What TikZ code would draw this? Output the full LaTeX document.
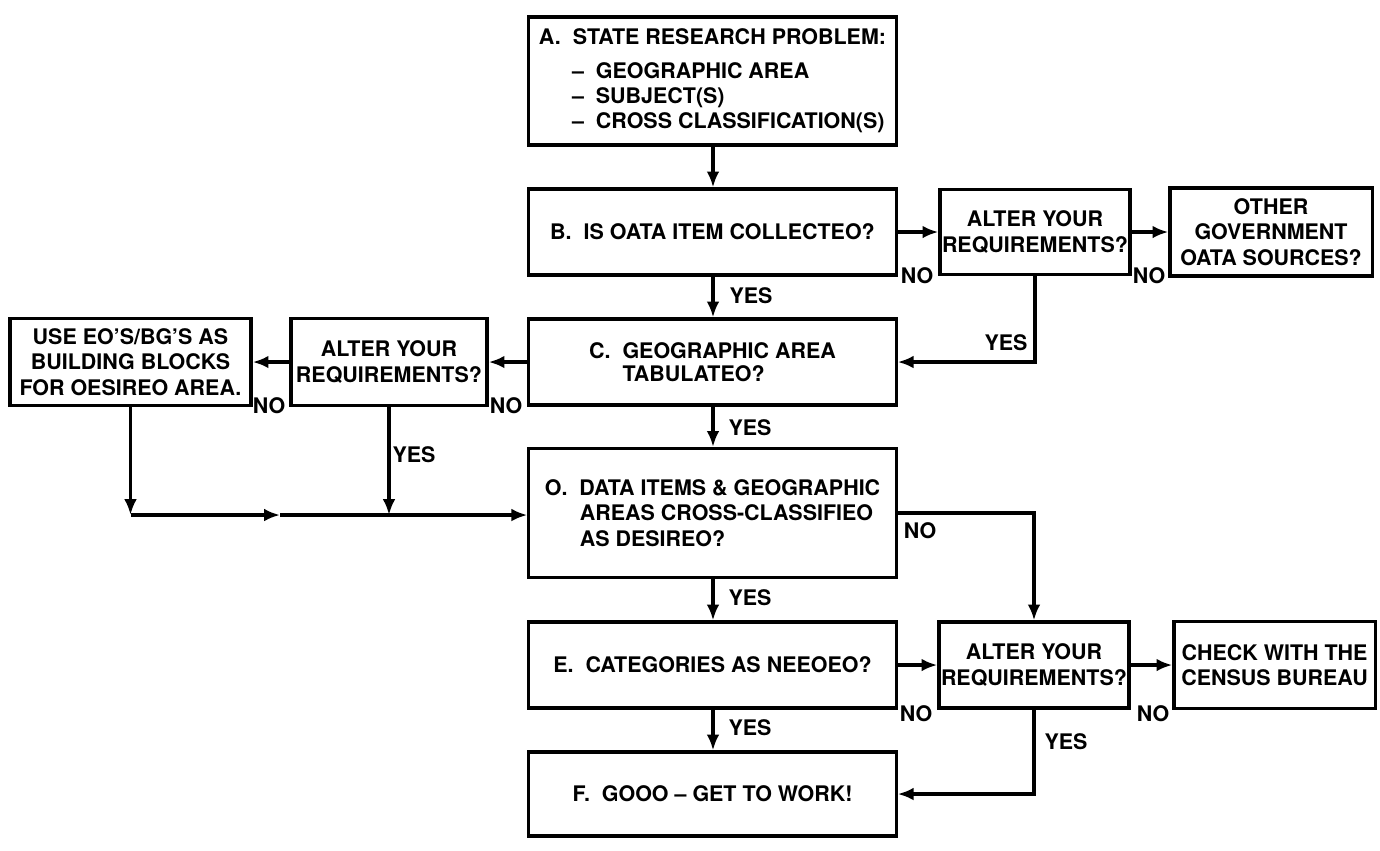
\documentclass[tikz,border=0pt]{standalone}
\usepackage{fontspec}
\setmainfont{TeX Gyre Heros}
\usetikzlibrary{arrows.meta,positioning}
\newcommand\flowfont{\fontsize{6.1}{7.2}\bfseries\selectfont}

\begin{document}
\begin{tikzpicture}[x=0.01cm,y=-0.01cm,
  box/.style={draw,line width=0.9pt,font=\flowfont,align=center,inner sep=0pt},
  lbl/.style={font=\flowfont,inner sep=0pt},
  arr/.style={-{Latex[length=4.5pt,width=3.6pt]},line width=0.9pt},
  ln/.style={line width=0.9pt}]

\useasboundingbox (0,0) rectangle (1380,850);

% main column
\node[box,align=left,minimum width=3.67cm,minimum height=1.28cm] (stateA) at (712.5,81)
  {A.\ \ STATE RESEARCH PROBLEM:\\[2.2pt]
   \hspace*{0.33cm}–\hspace{0.12cm}GEOGRAPHIC AREA\\
   \hspace*{0.33cm}–\hspace{0.12cm}SUBJECT(S)\\
   \hspace*{0.33cm}–\hspace{0.12cm}CROSS CLASSIFICATION(S)};
\node[box,minimum width=3.67cm,minimum height=0.86cm] (collB) at (712.5,232) {B.\ \ IS OATA ITEM COLLECTEO?};
\node[box,align=left,minimum width=3.67cm,minimum height=0.86cm] (geoC) at (712.5,362)
  {C.\ \ GEOGRAPHIC AREA\\[-0.8pt]\phantom{C.\ \ }TABULATEO?};
\node[box,align=left,minimum width=3.67cm,minimum height=1.29cm] (crossD) at (712.5,513)
  {O.\ \ DATA ITEMS \& GEOGRAPHIC\\
   \hspace*{0.35cm}AREAS CROSS-CLASSIFIEO\\
   \hspace*{0.35cm}AS DESIREO?};
\node[box,minimum width=3.67cm,minimum height=0.86cm] (catE) at (712.5,665) {E.\ \ CATEGORIES AS NEEOEO?};
\node[box,minimum width=3.67cm,minimum height=0.84cm] (workF) at (712.5,794) {F.\ \ GOOO – GET TO WORK!};

% side boxes
\node[box,minimum width=1.90cm,minimum height=0.85cm] (alterB) at (1035,232) {ALTER YOUR\\REQUIREMENTS?};
\node[box,minimum width=2.02cm,minimum height=0.88cm] (other) at (1271,232) {OTHER\\GOVERNMENT\\OATA SOURCES?};
\node[box,minimum width=1.96cm,minimum height=0.87cm] (alterC) at (389,362) {ALTER YOUR\\REQUIREMENTS?};
\node[box,minimum width=2.41cm,minimum height=0.87cm] (blocks) at (130.5,362) {USE EO'S/BG'S AS\\BUILDING BLOCKS\\FOR OESIREO AREA.};
\node[box,minimum width=1.90cm,minimum height=0.86cm] (alterE) at (1034,665) {ALTER YOUR\\REQUIREMENTS?};
\node[box,minimum width=2.01cm,minimum height=0.87cm] (census) at (1274.5,665) {CHECK WITH THE\\CENSUS BUREAU};

% junctions
\coordinate (spine) at (713,0);
\coordinate (j1) at (130.5,515);
\coordinate (jm) at (280,515);
\coordinate (j2) at (389,515);

% connectors
\draw[arr] (stateA.south -| spine) -- (collB.north -| spine);
\draw[arr] (collB) -- (alterB);
\draw[arr] (alterB) -- (other);
\draw[arr] (collB.south -| spine) -- (geoC.north -| spine);
\draw[arr] (alterB.south) |- (geoC.east);
\draw[arr] (geoC) -- (alterC);
\draw[arr] (alterC) -- (blocks);
\draw[arr] (blocks.south) -- (j1);
\draw[arr] (alterC.south) -- (j2);
\draw[arr] (j1) -- (jm);
\draw[ln] (jm) -- (j2);
\draw[arr] (j2) -- (crossD.west |- j2);
\draw[arr] (geoC.south -| spine) -- (crossD.north -| spine);
\draw[arr] (crossD.east) -| (alterE.north);
\draw[arr] (crossD.south -| spine) -- (catE.north -| spine);
\draw[arr] (catE) -- (alterE);
\draw[arr] (alterE) -- (census);
\draw[arr] (catE.south -| spine) -- (workF.north -| spine);
\draw[arr] (alterE.south) |- (workF.east);

% yes / no labels
\node[lbl] (noB) at (917,276) {NO};
\node[lbl] (noAB) at (1149,276) {NO};
\node[lbl] (yesB) at (751,296) {YES};
\node[lbl] (yesAB) at (1006,343) {YES};
\node[lbl] (noC) at (506,406) {NO};
\node[lbl] (noAC) at (269,406) {NO};
\node[lbl] (yesAC) at (414,455) {YES};
\node[lbl] (yesC) at (750,428) {YES};
\node[lbl] (noD) at (920,531) {NO};
\node[lbl] (yesD) at (750,598) {YES};
\node[lbl] (noE) at (916,714) {NO};
\node[lbl] (noAE) at (1153,714) {NO};
\node[lbl] (yesE) at (750,728) {YES};
\node[lbl] (yesAE) at (1066,742) {YES};

\end{tikzpicture}
\end{document}
